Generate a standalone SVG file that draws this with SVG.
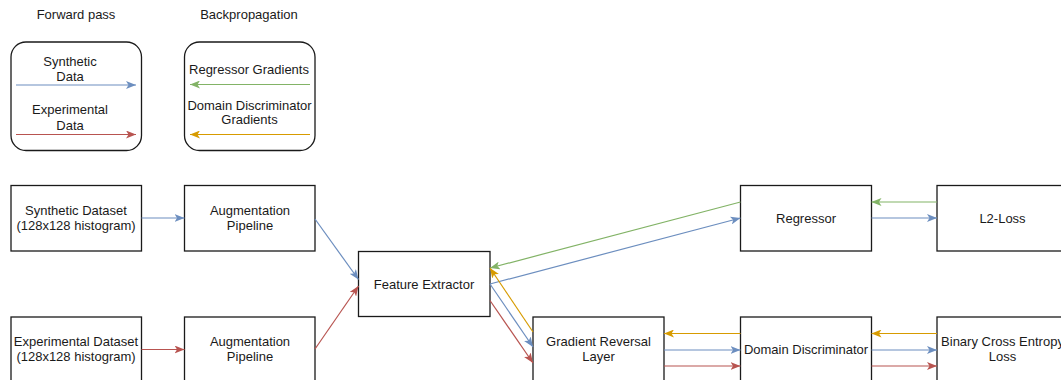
<svg xmlns="http://www.w3.org/2000/svg" width="1061" height="380" viewBox="0 0 1061 380">
  <style>
    text { font-family: "Liberation Sans", Arial, sans-serif; font-size: 13px; fill: #1a1a1a; text-anchor: middle; }
    .box { fill: #ffffff; stroke: #1a1a1a; stroke-width: 1.3; }
    .leg { fill: #ffffff; stroke: #1a1a1a; stroke-width: 1.3; }
    .e { fill: none; stroke-width: 1.2; }
    .blue { stroke: #6c8ebf; marker-end: url(#ab); }
    .red { stroke: #b85450; marker-end: url(#ar); }
    .green { stroke: #82b366; marker-end: url(#ag); }
    .orange { stroke: #d79b00; marker-end: url(#ao); }
  </style>
  <defs>
    <marker id="ab" markerUnits="userSpaceOnUse" viewBox="0 0 10 8" refX="10" refY="4" markerWidth="10" markerHeight="8" orient="auto">
      <path d="M10,4 L0,0 L2.5,4 L0,8 Z" fill="#6c8ebf"/>
    </marker>
    <marker id="ar" markerUnits="userSpaceOnUse" viewBox="0 0 10 8" refX="10" refY="4" markerWidth="10" markerHeight="8" orient="auto">
      <path d="M10,4 L0,0 L2.5,4 L0,8 Z" fill="#b85450"/>
    </marker>
    <marker id="ag" markerUnits="userSpaceOnUse" viewBox="0 0 10 8" refX="10" refY="4" markerWidth="10" markerHeight="8" orient="auto">
      <path d="M10,4 L0,0 L2.5,4 L0,8 Z" fill="#82b366"/>
    </marker>
    <marker id="ao" markerUnits="userSpaceOnUse" viewBox="0 0 10 8" refX="10" refY="4" markerWidth="10" markerHeight="8" orient="auto">
      <path d="M10,4 L0,0 L2.5,4 L0,8 Z" fill="#d79b00"/>
    </marker>
  </defs>
  <rect width="1061" height="380" fill="#ffffff"/>

  <!-- legend -->
  <g id="legend-forward">
    <text x="76" y="18.5">Forward pass</text>
    <rect class="leg" x="11" y="42" width="130.5" height="108.5" rx="15" ry="15"/>
    <text x="70" y="65.5">Synthetic</text>
    <text x="70" y="80.5">Data</text>
    <line class="e blue" x1="16" y1="85" x2="136" y2="85"/>
    <text x="70" y="114">Experimental</text>
    <text x="70" y="129.5">Data</text>
    <line class="e red" x1="16" y1="134.5" x2="136" y2="134.5"/>
  </g>
  <g id="legend-backward">
    <text x="249" y="18.5">Backpropagation</text>
    <rect class="leg" x="184.5" y="42" width="130.5" height="108.5" rx="15" ry="15"/>
    <text x="249" y="73.5">Regressor Gradients</text>
    <line class="e green" x1="310" y1="84.5" x2="190" y2="84.5"/>
    <text x="249.5" y="109.5">Domain Discriminator</text>
    <text x="249.5" y="124">Gradients</text>
    <line class="e orange" x1="310" y1="134.5" x2="190" y2="134.5"/>
  </g>

  <!-- nodes -->
  <g id="synthetic-dataset">
    <rect class="box" x="11" y="185.5" width="130.5" height="65.5"/>
    <text x="76" y="214.5">Synthetic Dataset</text>
    <text x="76" y="229.5">(128x128 histogram)</text>
  </g>
  <g id="augmentation-synthetic">
    <rect class="box" x="184.5" y="185.5" width="130.5" height="65.5"/>
    <text x="250" y="214.5">Augmentation</text>
    <text x="250" y="229.5">Pipeline</text>
  </g>
  <g id="experimental-dataset">
    <rect class="box" x="11" y="317" width="130.5" height="65.5"/>
    <text x="76" y="346">Experimental Dataset</text>
    <text x="76" y="361">(128x128 histogram)</text>
  </g>
  <g id="augmentation-experimental">
    <rect class="box" x="184.5" y="317" width="130.5" height="65.5"/>
    <text x="250" y="346">Augmentation</text>
    <text x="250" y="361">Pipeline</text>
  </g>
  <g id="feature-extractor">
    <rect class="box" x="358.5" y="251.5" width="131.5" height="65"/>
    <text x="424" y="288.5">Feature Extractor</text>
  </g>
  <g id="gradient-reversal">
    <rect class="box" x="533" y="317" width="131" height="65.5"/>
    <text x="598.5" y="346">Gradient Reversal</text>
    <text x="598.5" y="361">Layer</text>
  </g>
  <g id="regressor">
    <rect class="box" x="740.5" y="185.5" width="131" height="65.5"/>
    <text x="806" y="222.5">Regressor</text>
  </g>
  <g id="l2-loss">
    <rect class="box" x="937" y="185.5" width="131" height="65.5"/>
    <text x="1002.5" y="222.5">L2-Loss</text>
  </g>
  <g id="domain-discriminator">
    <rect class="box" x="740.5" y="317" width="131" height="65.5"/>
    <text x="806" y="353.5">Domain Discriminator</text>
  </g>
  <g id="bce-loss">
    <rect class="box" x="937" y="317" width="131" height="65.5"/>
    <text x="1002.5" y="346">Binary Cross Entropy</text>
    <text x="1002.5" y="361">Loss</text>
  </g>

  <!-- connectors -->
  <g id="connectors">
    <line class="e blue" x1="141.5" y1="218" x2="184.5" y2="218"/>
    <line class="e red" x1="141.5" y1="349.5" x2="184.5" y2="349.5"/>
    <line class="e blue" x1="315" y1="219" x2="358.5" y2="279.5"/>
    <line class="e red" x1="315" y1="349" x2="358.5" y2="286"/>
    <line class="e blue" x1="490" y1="284" x2="740.5" y2="218"/>
    <line class="e green" x1="740.5" y1="202" x2="490" y2="268"/>
    <line class="e orange" x1="533" y1="332" x2="490" y2="268"/>
    <line class="e blue" x1="490" y1="284" x2="533" y2="347"/>
    <line class="e red" x1="490" y1="300.5" x2="533" y2="363"/>
    <line class="e orange" x1="740.5" y1="333.5" x2="664" y2="333.5"/>
    <line class="e blue" x1="664" y1="350" x2="740.5" y2="350"/>
    <line class="e red" x1="664" y1="366" x2="740.5" y2="366"/>
    <line class="e orange" x1="937" y1="333.5" x2="871.5" y2="333.5"/>
    <line class="e blue" x1="871.5" y1="350" x2="937" y2="350"/>
    <line class="e red" x1="871.5" y1="366" x2="937" y2="366"/>
    <line class="e blue" x1="871.5" y1="218" x2="937" y2="218"/>
    <line class="e green" x1="937" y1="202" x2="871.5" y2="202"/>
  </g>
</svg>
